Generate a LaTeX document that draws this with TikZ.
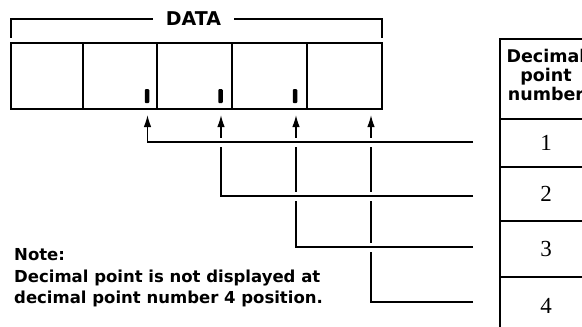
\documentclass[tikz,border=0pt]{standalone}
\usepackage{fontspec}
\newfontfamily\dvs{DejaVu Sans}
\newfontfamily\numfont{Liberation Serif}
\usetikzlibrary{arrows.meta}
\begin{document}
\begin{tikzpicture}[x=1pt,y=-1pt,
  cellbox/.style={draw, line width=1.8pt, minimum height=66, inner sep=0},
  dpmark/.style={fill, rounded corners=1pt, minimum width=4.5, minimum height=14, inner sep=0},
  bracketline/.style={line width=1.3pt},
  datalbl/.style={inner xsep=13, inner ysep=0, font=\dvs\bfseries\fontsize{19}{19}\selectfont},
  conn/.style={line width=1.3pt, -{Latex[length=12pt,width=7.5pt]},
    preaction={draw=white, line width=9pt, arrows=-}},
  tcell/.style={draw, line width=1.5pt, minimum width=92, inner sep=0},
  numtxt/.style={font=\numfont\fontsize{23}{23}\selectfont},
  hdrtxt/.style={align=center, text depth=7.4pt, font=\dvs\bfseries\fontsize{17.5}{19}\selectfont},
  notetxt/.style={anchor=base west, inner sep=0, font=\dvs\bfseries\fontsize{16.5}{16.5}\selectfont}
]
\clip (0,0) rectangle (582,327);
\fill[white] (0,0) rectangle (582,327);

% data register cells
\node[cellbox, minimum width=72.3] (c1) at (47.2,76) {};
\node[cellbox, minimum width=73.4] (c2) at (120,76) {};
\node[cellbox, minimum width=75] (c3) at (194.2,76) {};
\node[cellbox, minimum width=75.6] (c4) at (269.5,76) {};
\node[cellbox, minimum width=74.4] (c5) at (344.5,76) {};

% bracket with DATA label
\node[datalbl] (data) at (193.5,19) {DATA};
\coordinate (bl) at (11,38);
\coordinate (br) at (382,38);
\draw[bracketline] (data.west) -| (bl);
\draw[bracketline] (data.east) -| (br);

% decimal point marks
\node[dpmark] (m1) at (147,96) {};
\node[dpmark] (m2) at (220.5,96) {};
\node[dpmark] (m3) at (295,96) {};

% arrow targets
\coordinate (t1) at (147.5,115);
\coordinate (t2) at (221,115);
\coordinate (t3) at (296,115);
\coordinate (t4) at (371,115);
% line starts
\coordinate (s1) at (473,142);
\coordinate (s2) at (473,196);
\coordinate (s3) at (473,247);
\coordinate (s4) at (473,302);

\draw[conn] (s4) -| (t4);
\draw[conn] (s3) -| (t3);
\draw[conn] (s2) -| (t2);
\draw[conn] (s1) -| (t1);

% table
\node[tcell, minimum height=80, hdrtxt] (h) at (546,79) {Decimal\\point\\number};
\node[tcell, minimum height=48, numtxt] (r1) at (546,143) {1};
\node[tcell, minimum height=54, numtxt] (r2) at (546,194) {2};
\node[tcell, minimum height=56, numtxt] (r3) at (546,249) {3};
\node[tcell, minimum height=58, numtxt] (r4) at (546,306) {4};

% note
\node[notetxt] (n1) at (14,260) {Note:};
\node[notetxt] (n2) at (14,282.5) {Decimal point is not displayed at};
\node[notetxt] (n3) at (14,303.5) {decimal point number 4 position.};
\end{tikzpicture}
\end{document}
